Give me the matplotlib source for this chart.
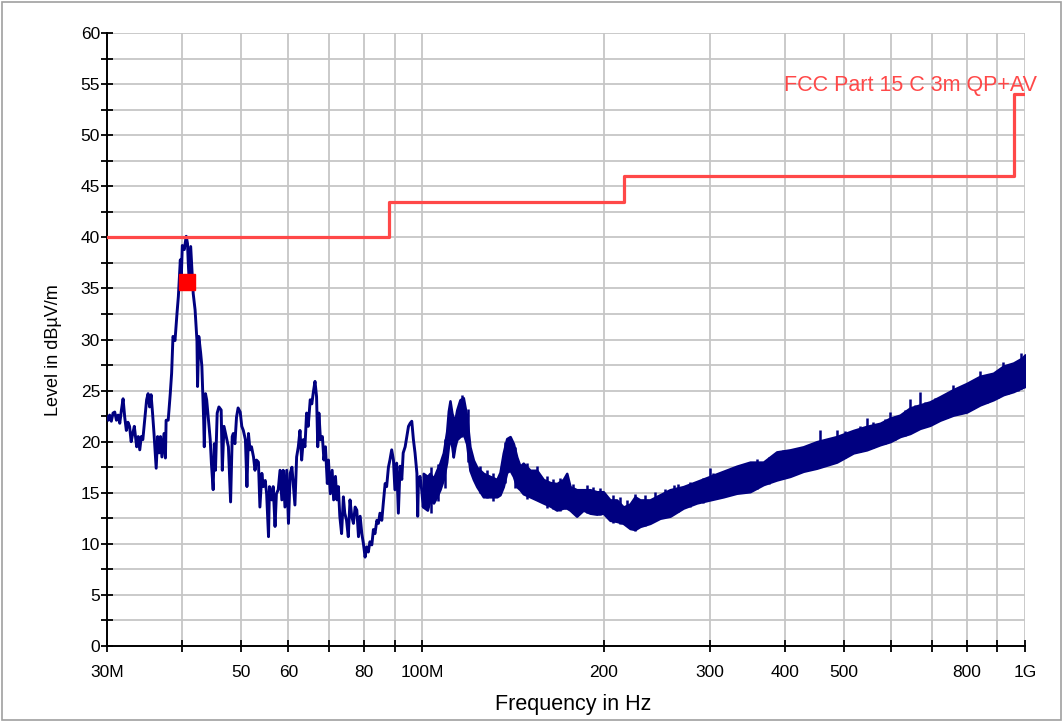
#!/usr/bin/env python3
"""Radiated emission scan 30 MHz - 1 GHz against FCC Part 15 C limit."""

import matplotlib
matplotlib.use("Agg")
import matplotlib.pyplot as plt
from matplotlib.patches import Rectangle

plt.rcParams["font.family"] = ["Liberation Sans", "DejaVu Sans"]

# Measured trace below ~100 MHz (MHz, dBuV/m)
trace_freq = [
    30.0, 30.15, 30.3, 30.5, 30.7, 30.9, 31.1, 31.3, 31.5, 31.7, 31.9, 32.1, 32.3, 32.5,
    32.7, 32.9, 33.1, 33.3, 33.6, 33.8, 34.0, 34.2, 34.4, 34.6, 34.9, 35.1, 35.3, 35.5,
    35.7, 35.9, 36.2, 36.4, 36.6, 36.8, 37.0, 37.3, 37.5, 37.6, 37.9, 38.2, 38.4, 38.6,
    38.9, 39.2, 39.4, 39.7, 39.8, 40.0, 40.3, 40.6, 40.8, 40.9, 41.1, 41.3, 41.5, 41.7,
    42.0, 42.3, 42.4, 42.6, 42.9, 43.1, 43.4, 43.5, 43.7, 43.9, 44.2, 44.5, 44.7, 45.0,
    45.2, 45.4, 45.7, 46.0, 46.4, 46.6, 46.9, 47.3, 47.7, 48.1, 48.4, 48.6, 48.9, 49.2,
    49.5, 49.9, 50.2, 50.5, 50.9, 51.2, 51.5, 51.8, 52.1, 52.5, 52.8, 53.1, 53.5, 53.8,
    54.2, 54.5, 54.9, 55.2, 55.6, 55.8, 56.3, 56.6, 57.0, 57.3, 57.7, 58.1, 58.5, 58.8,
    59.2, 59.6, 60.0, 60.4, 60.8, 61.1, 61.5, 61.9, 62.3, 62.7, 63.1, 63.5, 63.9, 64.3,
    64.7, 65.2, 65.6, 66.0, 66.4, 66.8, 67.1, 67.4, 67.8, 68.3, 68.7, 69.1, 69.6, 69.9,
    70.4, 70.9, 71.3, 71.8, 72.2, 72.6, 73.0, 73.5, 74.0, 74.4, 74.9, 75.4, 75.9, 76.4,
    76.9, 77.4, 77.9, 78.4, 78.9, 79.4, 79.9, 80.4, 80.9, 81.4, 81.9, 82.5, 83.0, 83.5,
    84.1, 84.6, 85.1, 85.7, 86.2, 86.8, 87.3, 87.9, 88.4, 89.0, 89.6, 90.1, 90.7, 91.3,
    91.9, 92.5, 93.0, 93.7, 94.3, 94.9, 95.5, 96.1, 96.7, 97.3, 98.0, 98.3, 98.6, 99.2,
    99.8, 100.4, 101.0,
]
trace_level = [
    22.4, 22.1, 22.6, 22.0, 22.8, 22.9, 22.1, 22.6, 21.8, 23.1, 24.2, 22.4, 21.1, 21.9,
    21.5, 20.0, 20.8, 21.5, 19.5, 20.5, 19.2, 20.5, 20.2, 21.8, 24.1, 24.7, 23.4, 24.6,
    22.8, 20.8, 17.4, 20.5, 18.9, 20.5, 18.5, 20.8, 18.4, 22.1, 22.1, 24.7, 26.7, 30.3,
    29.9, 32.6, 34.2, 37.8, 35.2, 39.2, 38.8, 40.1, 39.4, 37.8, 35.2, 39.1, 36.8, 34.5,
    32.9, 29.9, 25.4, 30.3, 28.7, 27.4, 22.1, 19.5, 24.7, 24.1, 22.1, 20.2, 17.9, 15.3,
    19.8, 17.2, 22.8, 23.4, 23.1, 17.2, 21.5, 20.5, 19.5, 14.1, 20.5, 20.8, 19.8, 22.4,
    23.3, 22.9, 21.5, 21.1, 20.2, 15.6, 20.8, 19.2, 19.5, 18.5, 17.2, 18.2, 18.0, 13.6,
    16.9, 15.6, 16.2, 14.9, 10.7, 15.6, 14.3, 15.6, 11.7, 14.9, 15.3, 17.2, 14.3, 17.2,
    13.6, 17.2, 12.0, 16.9, 17.5, 15.9, 13.8, 18.5, 19.5, 21.1, 18.2, 20.2, 19.5, 22.8,
    21.5, 24.1, 23.7, 24.9, 25.9, 24.4, 19.5, 22.8, 20.2, 20.5, 18.2, 19.5, 15.9, 18.2,
    14.9, 17.2, 14.3, 16.6, 14.3, 15.6, 12.7, 11.0, 14.6, 13.0, 12.3, 10.7, 14.3, 12.7,
    12.0, 13.6, 13.3, 10.7, 12.7, 11.0, 10.0, 8.7, 9.7, 9.2, 10.2, 9.9, 11.4, 11.0,
    12.3, 12.0, 13.0, 12.3, 14.0, 15.9, 15.6, 17.5, 18.2, 19.2, 18.2, 15.3, 17.9, 13.0,
    17.6, 16.3, 18.9, 19.5, 20.5, 21.5, 21.8, 22.0, 20.2, 18.9, 16.9, 12.7, 16.3, 16.6,
    15.3, 13.6, 16.0,
]

# Dense part of the trace above 100 MHz as min / max envelope
band_freq = [
    100.4, 102.0, 103.0, 104.4, 105.7, 107.0, 108.4, 109.8, 110.5, 111.2, 112.0, 112.6,
    113.3, 114.1, 115.5, 117.0, 118.5, 120.0, 121.6, 123.2, 126.3, 129.6, 133.0, 134.6,
    136.3, 138.1, 139.9, 141.7, 143.5, 145.3, 147.1, 151.0, 154.9, 158.8, 163.0, 167.2,
    171.4, 173.7, 175.9, 180.4, 185.0, 189.8, 194.8, 199.7, 204.9, 210.2, 215.6, 221.2,
    225.4, 229.8, 238.7, 248.0, 257.7, 271.1, 285.4, 300.2, 315.9, 332.4, 349.8, 368.1,
    387.3, 407.6, 428.8, 451.3, 487.1, 519.1, 546.3, 574.9, 597.3, 620.4, 644.5, 669.5,
    695.6, 722.7, 760.5, 800.4, 842.1, 885.9, 920.6, 956.5, 990.0, 1000.0,
]
band_low = [
    13.6, 13.3, 14.3, 14.0, 14.6, 15.3, 16.3, 18.0, 19.5, 20.5, 19.5, 18.5,
    19.5, 20.2, 20.5, 20.8, 19.8, 17.2, 16.3, 15.6, 14.6, 14.6, 14.6, 14.8,
    15.6, 17.0, 17.2, 16.6, 15.6, 15.3, 14.9, 14.6, 14.3, 14.0, 13.7, 13.3,
    13.5, 13.5, 13.3, 12.7, 13.3, 13.0, 12.9, 13.0, 12.3, 12.2, 12.0, 11.5,
    11.4, 11.7, 12.0, 12.5, 12.7, 13.5, 14.0, 14.3, 14.6, 14.95, 15.1, 15.8,
    16.25, 16.6, 17.1, 17.4, 18.0, 18.9, 19.2, 19.7, 20.0, 20.5, 20.8, 21.3,
    21.6, 22.1, 22.6, 22.9, 23.6, 24.1, 24.6, 24.9, 25.3, 25.4,
]
band_high = [
    16.9, 16.6, 16.9, 16.4, 17.2, 17.9, 18.9, 21.0, 23.0, 24.0, 22.8, 22.3,
    22.1, 23.1, 24.1, 24.3, 22.5, 19.5, 18.2, 17.5, 16.9, 16.6, 16.3, 17.0,
    18.9, 20.3, 20.5, 19.8, 18.5, 17.6, 17.9, 17.2, 17.2, 16.3, 16.0, 15.9,
    16.3, 16.9, 15.6, 15.3, 15.3, 15.3, 15.1, 15.1, 14.3, 14.3, 13.6, 13.9,
    14.6, 14.3, 14.3, 14.8, 15.3, 15.6, 16.1, 16.6, 17.1, 17.6, 18.0, 18.0,
    19.0, 19.2, 19.5, 20.0, 20.5, 21.1, 21.5, 21.8, 22.3, 22.6, 23.3, 23.6,
    23.9, 24.4, 25.1, 25.7, 26.4, 26.7, 27.4, 27.7, 28.2, 28.5,
]

# Spikes sticking out of the band (read individually)
spike_freq = [
    103.6, 106.4, 109.2, 112.6, 116.2, 119.2, 124.8, 128.0, 131.3, 137.2, 142.6, 149.0,
    155.0, 161.0, 165.0, 169.3, 178.2, 180.4, 187.4, 192.3, 197.2, 207.5, 213.0, 218.4,
    225.4, 234.2, 243.3, 252.8, 262.0, 266.0, 278.2, 292.7, 300.2, 303.5, 308.0, 323.9,
    330.0, 340.9, 345.0, 358.8, 376.0, 397.3, 400.0, 418.0, 420.0, 440.0, 456.9, 469.0,
    487.1, 503.0, 532.6, 546.3, 560.5, 586.0, 597.3, 608.7, 632.3, 644.5, 657.0, 669.5,
    682.4, 709.0, 741.4, 760.5, 780.0, 821.0, 842.1, 863.8, 903.0, 920.6, 938.4, 973.0,
    985.0,
]
spike_low = [
    13.0, 14.2, 15.5, 18.5, 20.5, 18.0, 15.0, 14.5, 14.2, 16.0, 15.5, 14.4,
    14.5, 13.5, 13.4, 13.2, 13.0, 12.7, 13.0, 12.9, 12.8, 12.0, 11.9, 11.7,
    11.3, 11.7, 12.2, 12.6, 13.0, 13.1, 13.6, 14.0, 14.3, 14.5, 14.5, 14.8,
    15.0, 15.0, 15.1, 15.4, 15.9, 16.4, 16.5, 16.9, 17.0, 17.3, 17.5, 17.7,
    18.0, 18.4, 19.0, 19.2, 19.4, 19.8, 20.0, 20.2, 20.6, 20.8, 21.0, 21.3,
    21.4, 21.8, 22.3, 22.6, 22.7, 23.2, 23.6, 23.8, 24.3, 24.6, 24.7, 25.0,
    25.2,
]
spike_high = [
    17.5, 17.8, 20.3, 22.3, 24.6, 23.2, 17.6, 17.2, 16.9, 20.0, 19.5, 17.9,
    17.6, 16.6, 16.3, 16.4, 15.9, 15.3, 15.8, 15.6, 15.5, 14.8, 14.6, 14.3,
    14.9, 14.8, 15.1, 15.4, 15.8, 15.9, 16.1, 16.4, 17.4, 16.9, 16.7, 17.2,
    17.5, 17.4, 17.9, 18.3, 18.5, 19.2, 19.0, 19.4, 19.3, 19.8, 21.1, 20.3,
    21.1, 21.0, 21.5, 22.3, 21.9, 22.2, 22.9, 22.5, 23.1, 24.2, 23.6, 24.9,
    23.9, 24.3, 24.8, 25.5, 25.3, 26.0, 26.9, 26.4, 27.0, 27.8, 27.2, 27.9,
    28.7,
]

# FCC Part 15 C 3 m limit (QP + AV)
limit_freq = [30, 88, 88, 216, 216, 960, 960, 1000]
limit_level = [40, 40, 43.5, 43.5, 46, 46, 54, 54]

# Final measurement point
peak_freq = [40.7]
peak_level = [35.6]

x_ticks = [30, 40, 50, 60, 70, 80, 90, 100, 200, 300, 400, 500, 600, 700, 800, 900, 1000]
x_labels = ["30M", "", "50", "60", "", "80", "", "100M", "200", "300", "400", "500",
            "", "", "800", "", "1G"]

navy = "#000080"
grid_col = "#c6c6c6"

fig = plt.figure(figsize=(10.63, 7.22), dpi=100)
ax = fig.add_axes([107 / 1063, 1 - 646 / 722, 918 / 1063, 613 / 722])

ax.set_xscale("log")
ax.set_xlim(30, 1000)
ax.set_ylim(0, 60)

ax.fill_between(band_freq, band_low, band_high, color=navy, linewidth=1.8,
                edgecolor=navy, zorder=3)
ax.vlines(spike_freq, spike_low, spike_high, color=navy, linewidth=1.8, zorder=3)
ax.plot(trace_freq, trace_level, color=navy, linewidth=2.1, zorder=3)

ax.plot(limit_freq, limit_level, color="#ff4848", linewidth=2.3, zorder=4)
ax.plot(peak_freq, peak_level, marker="s", markersize=11, color="#ff0000",
        linestyle="none", zorder=5)

# axes styling
ax.set_xticks(x_ticks)
ax.set_xticklabels(x_labels)
ax.xaxis.set_minor_locator(matplotlib.ticker.NullLocator())
ax.set_yticks(range(0, 61, 5))
ax.set_yticks([v + 2.5 for v in range(0, 60, 5)], minor=True)

ax.grid(True, which="major", color=grid_col, linewidth=1.3, zorder=0)
ax.grid(True, which="minor", axis="y", color=grid_col, linewidth=1.3, zorder=0)
ax.set_axisbelow(True)

for side in ["top", "right"]:
    ax.spines[side].set_visible(False)
for side in ["left", "bottom"]:
    ax.spines[side].set_linewidth(1.4)

ax.tick_params(which="both", direction="inout", length=8, width=1.3, color="black",
               labelsize=12.5)
ax.tick_params(axis="y", pad=1)
ax.tick_params(axis="x", pad=10)

ax.set_ylabel("Level in dBµV/m", fontsize=13)
ax.yaxis.set_label_coords((62 - 107) / 918, (646 - 350) / 613)
ax.set_xlabel("Frequency in Hz", fontsize=15.5)
ax.xaxis.set_label_coords((573 - 107) / 918, (646 - 694) / 613)

fig.text(1037 / 1063, 1 - 86 / 722, "FCC Part 15 C 3m QP+AV", color="#ff4848",
         fontsize=15.5, ha="right", va="center")

fig.patches.append(Rectangle((2 / 1063, 2 / 722), 1059 / 1063, 718 / 722,
                             transform=fig.transFigure, fill=False,
                             edgecolor="#a0a0a0", linewidth=1.2))

fig.savefig("out.png", dpi=100)
